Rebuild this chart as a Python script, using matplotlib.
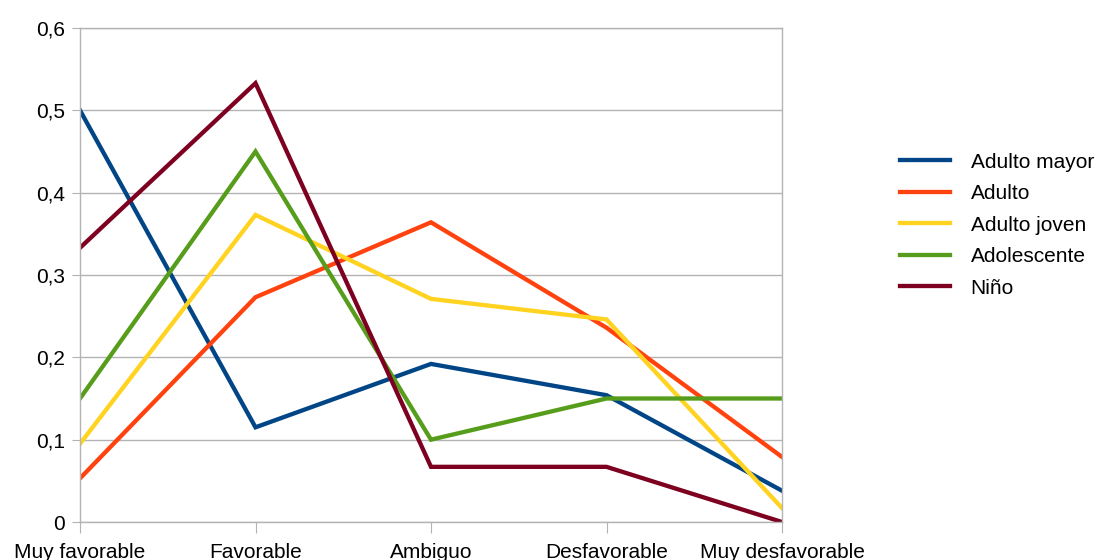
import matplotlib
matplotlib.use("Agg")
import matplotlib.pyplot as plt
from matplotlib.ticker import FuncFormatter

categorias = ["Muy favorable", "Favorable", "Ambiguo", "Desfavorable", "Muy desfavorable"]

adulto_mayor = [0.500, 0.115, 0.192, 0.154, 0.038]
adulto = [0.053, 0.273, 0.364, 0.236, 0.079]
adulto_joven = [0.095, 0.373, 0.271, 0.246, 0.017]
adolescente = [0.150, 0.450, 0.100, 0.150, 0.150]
nino = [0.333, 0.533, 0.067, 0.067, 0.000]

series = [
    ("Adulto mayor", adulto_mayor, "#004586"),
    ("Adulto", adulto, "#ff420e"),
    ("Adulto joven", adulto_joven, "#ffd320"),
    ("Adolescente", adolescente, "#579d1c"),
    ("Niño", nino, "#7e0021"),
]

plt.rcParams['font.family'] = ['Liberation Sans', 'DejaVu Sans']

fig = plt.figure(figsize=(11.03, 5.6), dpi=100)
ax = fig.add_axes([80/1103, 1-522/560, (782-80)/1103, (522-28)/560])

x = range(len(categorias))
for nombre, valores, color in series:
    ax.plot(x, valores, color=color, lw=3.1, label=nombre, solid_joinstyle='miter')

ax.set_xlim(0, len(categorias)-1)
ax.set_ylim(0, 0.6)
ax.set_xticks(list(x))
ax.set_xticklabels(categorias, fontsize=15)
ax.set_yticks([0, 0.1, 0.2, 0.3, 0.4, 0.5, 0.6])
ax.yaxis.set_major_formatter(FuncFormatter(lambda v, p: ("%g" % round(v, 1)).replace(".", ",")))
ax.tick_params(axis='y', labelsize=15, length=6, color="#b3b3b3", pad=5)
ax.tick_params(axis='x', length=8, color="#b3b3b3", pad=7)
ax.grid(axis='y', color="#b3b3b3", lw=1)
ax.set_axisbelow(True)
for s in ax.spines.values():
    s.set_color("#b3b3b3")
    s.set_linewidth(1)

leg = fig.legend(loc='upper left', bbox_to_anchor=(881/1103, 1-134/560), frameon=False,
                 fontsize=15, handlelength=2.4, handletextpad=1.0, labelspacing=0.6)

fig.savefig("out.png", dpi=100)
